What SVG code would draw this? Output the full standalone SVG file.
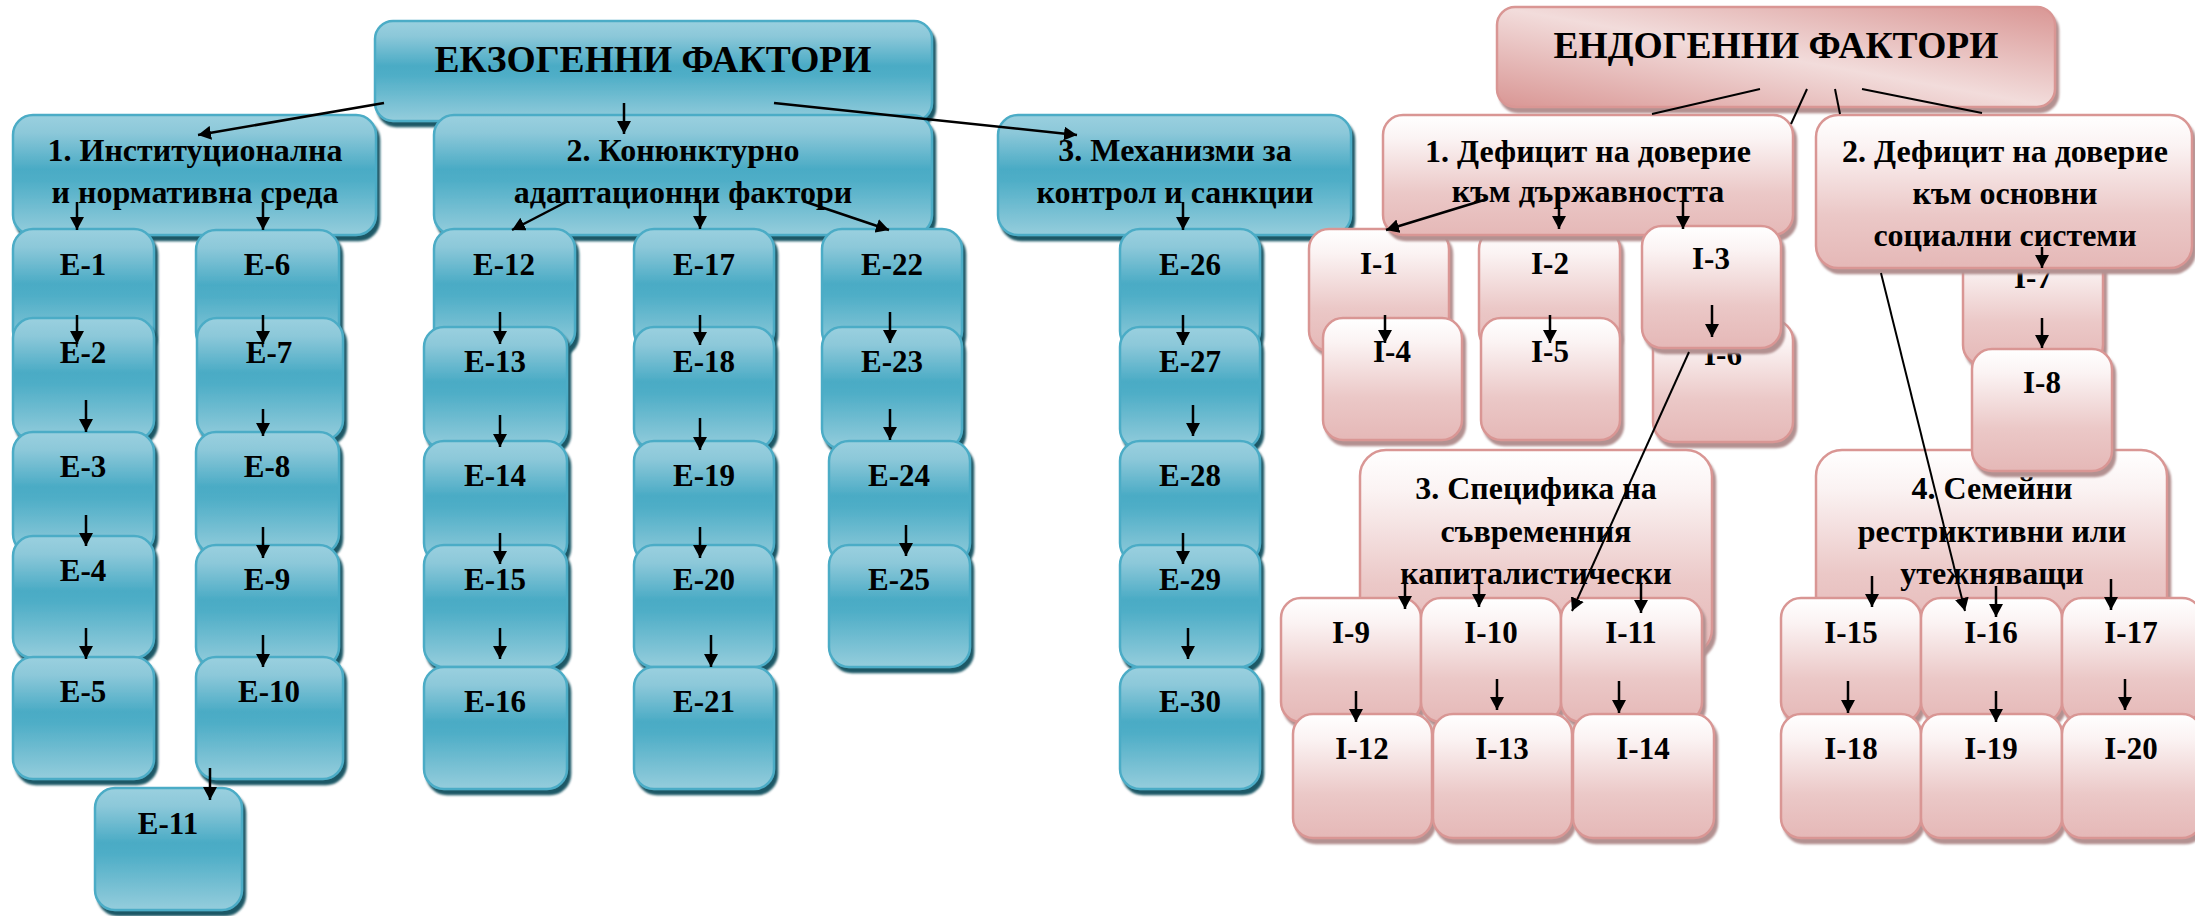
<svg xmlns="http://www.w3.org/2000/svg" width="2195" height="916" viewBox="0 0 2195 916">
<defs>
<linearGradient id="gb" x1="0" y1="0" x2="0" y2="1">
<stop offset="0" stop-color="#9AD0DF"/>
<stop offset="0.15" stop-color="#8CC8D9"/>
<stop offset="0.45" stop-color="#4AABC5"/>
<stop offset="0.55" stop-color="#4FAEC7"/>
<stop offset="1" stop-color="#95CDDC"/>
</linearGradient>
<linearGradient id="gp" x1="0" y1="0" x2="0" y2="1">
<stop offset="0" stop-color="#FFFFFF"/>
<stop offset="0.2" stop-color="#FBF3F3"/>
<stop offset="0.65" stop-color="#EBC8C7"/>
<stop offset="1" stop-color="#E5B8B7"/>
</linearGradient>
<linearGradient id="gt" x1="1" y1="0" x2="0" y2="1">
<stop offset="0" stop-color="#D99694"/>
<stop offset="0.5" stop-color="#F2DCDB"/>
<stop offset="1" stop-color="#D99694"/>
</linearGradient>
<filter id="sb" x="-10%" y="-10%" width="125%" height="130%">
<feDropShadow dx="3" dy="5" stdDeviation="0.8" flood-color="#1F5866" flood-opacity="1"/>
</filter>
<filter id="sp" x="-10%" y="-10%" width="125%" height="130%">
<feDropShadow dx="3" dy="5" stdDeviation="0.8" flood-color="#B39191" flood-opacity="1"/>
</filter>
<marker id="ah" viewBox="0 0 13 14" refX="13" refY="7" markerWidth="13" markerHeight="14" markerUnits="userSpaceOnUse" orient="auto">
<path d="M0,0 L13,7 L0,14 Z" fill="#000"/>
</marker>
</defs>
<style>
.b{fill:url(#gb);stroke:#4BACC6;stroke-width:2.5;filter:url(#sb)}
.p{fill:url(#gp);stroke:#D99694;stroke-width:2.5;filter:url(#sp)}
.t{fill:url(#gt);stroke:#D99694;stroke-width:2.5;filter:url(#sp)}
text{font-family:"Liberation Serif","Times New Roman",serif;font-weight:bold;fill:#000;text-anchor:middle;font-size:31px}
.h{font-size:37.5px}
.g{font-size:32px}
.c line{stroke:#000;stroke-width:2.5}
.c line.a{marker-end:url(#ah)}
.c line.n{stroke-width:2}
</style>
<rect width="2195" height="916" fill="#fff"/>

<g id="exo"><rect class="b" x="375" y="21" width="557" height="100" rx="18"/><text class="h" x="653" y="72">ЕКЗОГЕННИ ФАКТОРИ</text></g>
<g id="g1"><rect class="b" x="13" y="115" width="363" height="120" rx="20"/><text class="g" x="195" y="161">1. Институционална</text><text class="g" x="195" y="203">и нормативна среда</text></g>
<g id="g2"><rect class="b" x="434" y="115" width="498" height="120" rx="20"/><text class="g" x="683" y="161">2. Конюнктурно</text><text class="g" x="683" y="203">адаптационни фактори</text></g>
<g id="g3"><rect class="b" x="998" y="115" width="353" height="120" rx="20"/><text class="g" x="1175" y="161">3. Механизми за</text><text class="g" x="1175" y="203">контрол и санкции</text></g>

<g id="E-1"><rect class="b" x="13" y="229" width="141" height="122" rx="20"/><text x="83" y="275">E-1</text></g>
<g id="E-2"><rect class="b" x="13" y="318" width="141" height="122" rx="20"/><text x="83" y="363">E-2</text></g>
<g id="E-3"><rect class="b" x="13" y="432" width="141" height="122" rx="20"/><text x="83" y="477">E-3</text></g>
<g id="E-4"><rect class="b" x="13" y="536" width="141" height="122" rx="20"/><text x="83" y="581">E-4</text></g>
<g id="E-5"><rect class="b" x="13" y="657" width="141" height="122" rx="20"/><text x="83" y="702">E-5</text></g>
<g id="E-6"><rect class="b" x="196" y="230" width="143" height="122" rx="20"/><text x="267" y="275">E-6</text></g>
<g id="E-7"><rect class="b" x="197" y="318" width="146" height="122" rx="20"/><text x="269" y="363">E-7</text></g>
<g id="E-8"><rect class="b" x="196" y="432" width="143" height="122" rx="20"/><text x="267" y="477">E-8</text></g>
<g id="E-9"><rect class="b" x="196" y="545" width="143" height="122" rx="20"/><text x="267" y="590">E-9</text></g>
<g id="E-10"><rect class="b" x="196" y="657" width="147" height="122" rx="20"/><text x="269" y="702">E-10</text></g>
<g id="E-11"><rect class="b" x="95" y="788" width="147" height="122" rx="20"/><text x="168" y="834">E-11</text></g>
<g id="E-12"><rect class="b" x="434" y="229" width="141" height="122" rx="20"/><text x="504" y="275">E-12</text></g>
<g id="E-13"><rect class="b" x="424" y="327" width="143" height="122" rx="20"/><text x="495" y="372">E-13</text></g>
<g id="E-14"><rect class="b" x="424" y="441" width="143" height="122" rx="20"/><text x="495" y="486">E-14</text></g>
<g id="E-15"><rect class="b" x="424" y="545" width="143" height="122" rx="20"/><text x="495" y="590">E-15</text></g>
<g id="E-16"><rect class="b" x="424" y="667" width="143" height="122" rx="20"/><text x="495" y="712">E-16</text></g>
<g id="E-17"><rect class="b" x="634" y="229" width="140" height="122" rx="20"/><text x="704" y="275">E-17</text></g>
<g id="E-18"><rect class="b" x="634" y="327" width="140" height="122" rx="20"/><text x="704" y="372">E-18</text></g>
<g id="E-19"><rect class="b" x="634" y="441" width="140" height="122" rx="20"/><text x="704" y="486">E-19</text></g>
<g id="E-20"><rect class="b" x="634" y="545" width="140" height="122" rx="20"/><text x="704" y="590">E-20</text></g>
<g id="E-21"><rect class="b" x="634" y="667" width="140" height="122" rx="20"/><text x="704" y="712">E-21</text></g>
<g id="E-22"><rect class="b" x="822" y="229" width="140" height="122" rx="20"/><text x="892" y="275">E-22</text></g>
<g id="E-23"><rect class="b" x="822" y="327" width="140" height="122" rx="20"/><text x="892" y="372">E-23</text></g>
<g id="E-24"><rect class="b" x="829" y="441" width="141" height="122" rx="20"/><text x="899" y="486">E-24</text></g>
<g id="E-25"><rect class="b" x="829" y="545" width="141" height="122" rx="20"/><text x="899" y="590">E-25</text></g>
<g id="E-26"><rect class="b" x="1120" y="229" width="140" height="122" rx="20"/><text x="1190" y="275">E-26</text></g>
<g id="E-27"><rect class="b" x="1120" y="327" width="140" height="122" rx="20"/><text x="1190" y="372">E-27</text></g>
<g id="E-28"><rect class="b" x="1120" y="441" width="140" height="122" rx="20"/><text x="1190" y="486">E-28</text></g>
<g id="E-29"><rect class="b" x="1120" y="545" width="140" height="122" rx="20"/><text x="1190" y="590">E-29</text></g>
<g id="E-30"><rect class="b" x="1120" y="667" width="140" height="122" rx="20"/><text x="1190" y="712">E-30</text></g>

<g id="endo"><rect class="t" x="1497" y="7" width="558" height="100" rx="18"/><text class="h" x="1776" y="58">ЕНДОГЕННИ ФАКТОРИ</text></g>
<g id="I-1"><rect class="p" x="1309" y="229" width="140" height="122" rx="20"/><text x="1379" y="274">I-1</text></g>
<g id="I-2"><rect class="p" x="1479" y="229" width="141" height="122" rx="20"/><text x="1550" y="274">I-2</text></g>
<g id="r1"><rect class="p" x="1383" y="115" width="410" height="120" rx="20"/><text class="g" x="1588" y="162">1. Дефицит на доверие</text><text class="g" x="1588" y="202">към държавността</text></g>
<g id="I-6"><rect class="p" x="1653" y="320" width="140" height="122" rx="20"/><text x="1723" y="365">I-6</text></g>
<g id="I-3"><rect class="p" x="1642" y="226" width="139" height="122" rx="20"/><text x="1711" y="269">I-3</text></g>
<g id="I-4"><rect class="p" x="1323" y="318" width="139" height="122" rx="20"/><text x="1392" y="362">I-4</text></g>
<g id="I-5"><rect class="p" x="1481" y="318" width="139" height="122" rx="20"/><text x="1550" y="362">I-5</text></g>
<g id="r4"><rect class="p" x="1816" y="450" width="351" height="190" rx="26"/><text class="g" x="1992" y="499">4. Семейни</text><text class="g" x="1992" y="542">рестриктивни или</text><text class="g" x="1992" y="584">утежняващи</text></g>
<g id="I-7"><rect class="p" x="1963" y="243" width="140" height="122" rx="20"/><text x="2033" y="288">I-7</text></g>
<g id="r2"><rect class="p" x="1816" y="115" width="376" height="153" rx="22"/><text class="g" x="2005" y="162">2. Дефицит на доверие</text><text class="g" x="2005" y="204">към основни</text><text class="g" x="2005" y="246">социални системи</text></g>
<g id="I-8"><rect class="p" x="1972" y="349" width="140" height="122" rx="20"/><text x="2042" y="393">I-8</text></g>
<g id="r3"><rect class="p" x="1360" y="450" width="352" height="205" rx="26"/><text class="g" x="1536" y="499">3. Специфика на</text><text class="g" x="1536" y="542">съвременния</text><text class="g" x="1536" y="584">капиталистически</text></g>
<g id="I-9"><rect class="p" x="1281" y="598" width="140" height="124" rx="20"/><text x="1351" y="643">I-9</text></g>
<g id="I-10"><rect class="p" x="1421" y="598" width="140" height="124" rx="20"/><text x="1491" y="643">I-10</text></g>
<g id="I-11"><rect class="p" x="1561" y="598" width="141" height="124" rx="20"/><text x="1631" y="643">I-11</text></g>
<g id="I-12"><rect class="p" x="1293" y="714" width="139" height="124" rx="20"/><text x="1362" y="759">I-12</text></g>
<g id="I-13"><rect class="p" x="1433" y="714" width="139" height="124" rx="20"/><text x="1502" y="759">I-13</text></g>
<g id="I-14"><rect class="p" x="1573" y="714" width="141" height="124" rx="20"/><text x="1643" y="759">I-14</text></g>
<g id="I-15"><rect class="p" x="1781" y="598" width="140" height="124" rx="20"/><text x="1851" y="643">I-15</text></g>
<g id="I-16"><rect class="p" x="1921" y="598" width="141" height="124" rx="20"/><text x="1991" y="643">I-16</text></g>
<g id="I-17"><rect class="p" x="2062" y="598" width="140" height="124" rx="20"/><text x="2131" y="643">I-17</text></g>
<g id="I-18"><rect class="p" x="1781" y="714" width="140" height="124" rx="20"/><text x="1851" y="759">I-18</text></g>
<g id="I-19"><rect class="p" x="1921" y="714" width="141" height="124" rx="20"/><text x="1991" y="759">I-19</text></g>
<g id="I-20"><rect class="p" x="2062" y="714" width="140" height="124" rx="20"/><text x="2131" y="759">I-20</text></g>

<g id="connectors" class="c">
<line class="a" x1="384" y1="103" x2="198" y2="135"/>
<line class="a" x1="624" y1="103" x2="624" y2="134"/>
<line class="a" x1="774" y1="103" x2="1077" y2="135"/>
<line class="a" x1="77" y1="202" x2="77" y2="230"/>
<line class="a" x1="263" y1="202" x2="263" y2="230"/>
<line class="a" x1="77" y1="315" x2="77" y2="344"/>
<line class="a" x1="86" y1="400" x2="86" y2="432"/>
<line class="a" x1="86" y1="515" x2="86" y2="546"/>
<line class="a" x1="86" y1="628" x2="86" y2="659"/>
<line class="a" x1="263" y1="315" x2="263" y2="344"/>
<line class="a" x1="263" y1="409" x2="263" y2="436"/>
<line class="a" x1="263" y1="527" x2="263" y2="558"/>
<line class="a" x1="263" y1="635" x2="263" y2="667"/>
<line class="a" x1="210" y1="768" x2="210" y2="800"/>
<line class="a" x1="568" y1="201" x2="512" y2="230"/>
<line class="a" x1="700" y1="200" x2="700" y2="229"/>
<line class="a" x1="803" y1="201" x2="889" y2="230"/>
<line class="a" x1="500" y1="312" x2="500" y2="344"/>
<line class="a" x1="500" y1="415" x2="500" y2="447"/>
<line class="a" x1="500" y1="533" x2="500" y2="564"/>
<line class="a" x1="500" y1="628" x2="500" y2="659"/>
<line class="a" x1="700" y1="315" x2="700" y2="345"/>
<line class="a" x1="700" y1="418" x2="700" y2="450"/>
<line class="a" x1="700" y1="527" x2="700" y2="558"/>
<line class="a" x1="711" y1="635" x2="711" y2="667"/>
<line class="a" x1="890" y1="312" x2="890" y2="343"/>
<line class="a" x1="890" y1="409" x2="890" y2="440"/>
<line class="a" x1="906" y1="525" x2="906" y2="556"/>
<line class="a" x1="1183" y1="202" x2="1183" y2="230"/>
<line class="a" x1="1183" y1="315" x2="1183" y2="345"/>
<line class="a" x1="1193" y1="405" x2="1193" y2="436"/>
<line class="a" x1="1183" y1="533" x2="1183" y2="564"/>
<line class="a" x1="1188" y1="628" x2="1188" y2="659"/>
<line class="n" x1="1760" y1="89" x2="1652" y2="114"/>
<line class="n" x1="1862" y1="89" x2="1982" y2="113"/>
<line class="n" x1="1807" y1="89" x2="1791" y2="124"/>
<line class="n a" x1="1689" y1="352" x2="1572" y2="611"/>
<line class="n" x1="1835" y1="89" x2="1840" y2="114"/>
<line class="n a" x1="1881" y1="273" x2="1965" y2="611"/>
<line class="a" x1="1484" y1="200" x2="1386" y2="230"/>
<line class="a" x1="1559" y1="202" x2="1559" y2="229"/>
<line class="a" x1="1683" y1="202" x2="1683" y2="229"/>
<line class="a" x1="1385" y1="315" x2="1385" y2="343"/>
<line class="a" x1="1550" y1="315" x2="1550" y2="343"/>
<line class="a" x1="1712" y1="305" x2="1712" y2="337"/>
<line class="a" x1="2042" y1="247" x2="2042" y2="268"/>
<line class="a" x1="2042" y1="318" x2="2042" y2="348"/>
<line class="a" x1="1405" y1="584" x2="1405" y2="609"/>
<line class="a" x1="1479" y1="581" x2="1479" y2="607"/>
<line class="a" x1="1641" y1="583" x2="1641" y2="613"/>
<line class="a" x1="1356" y1="691" x2="1356" y2="722"/>
<line class="a" x1="1497" y1="679" x2="1497" y2="710"/>
<line class="a" x1="1619" y1="681" x2="1619" y2="713"/>
<line class="a" x1="1872" y1="576" x2="1872" y2="607"/>
<line class="a" x1="1996" y1="586" x2="1996" y2="617"/>
<line class="a" x1="2111" y1="579" x2="2111" y2="610"/>
<line class="a" x1="1848" y1="681" x2="1848" y2="713"/>
<line class="a" x1="1996" y1="691" x2="1996" y2="722"/>
<line class="a" x1="2125" y1="679" x2="2125" y2="710"/>
</g>
</svg>
